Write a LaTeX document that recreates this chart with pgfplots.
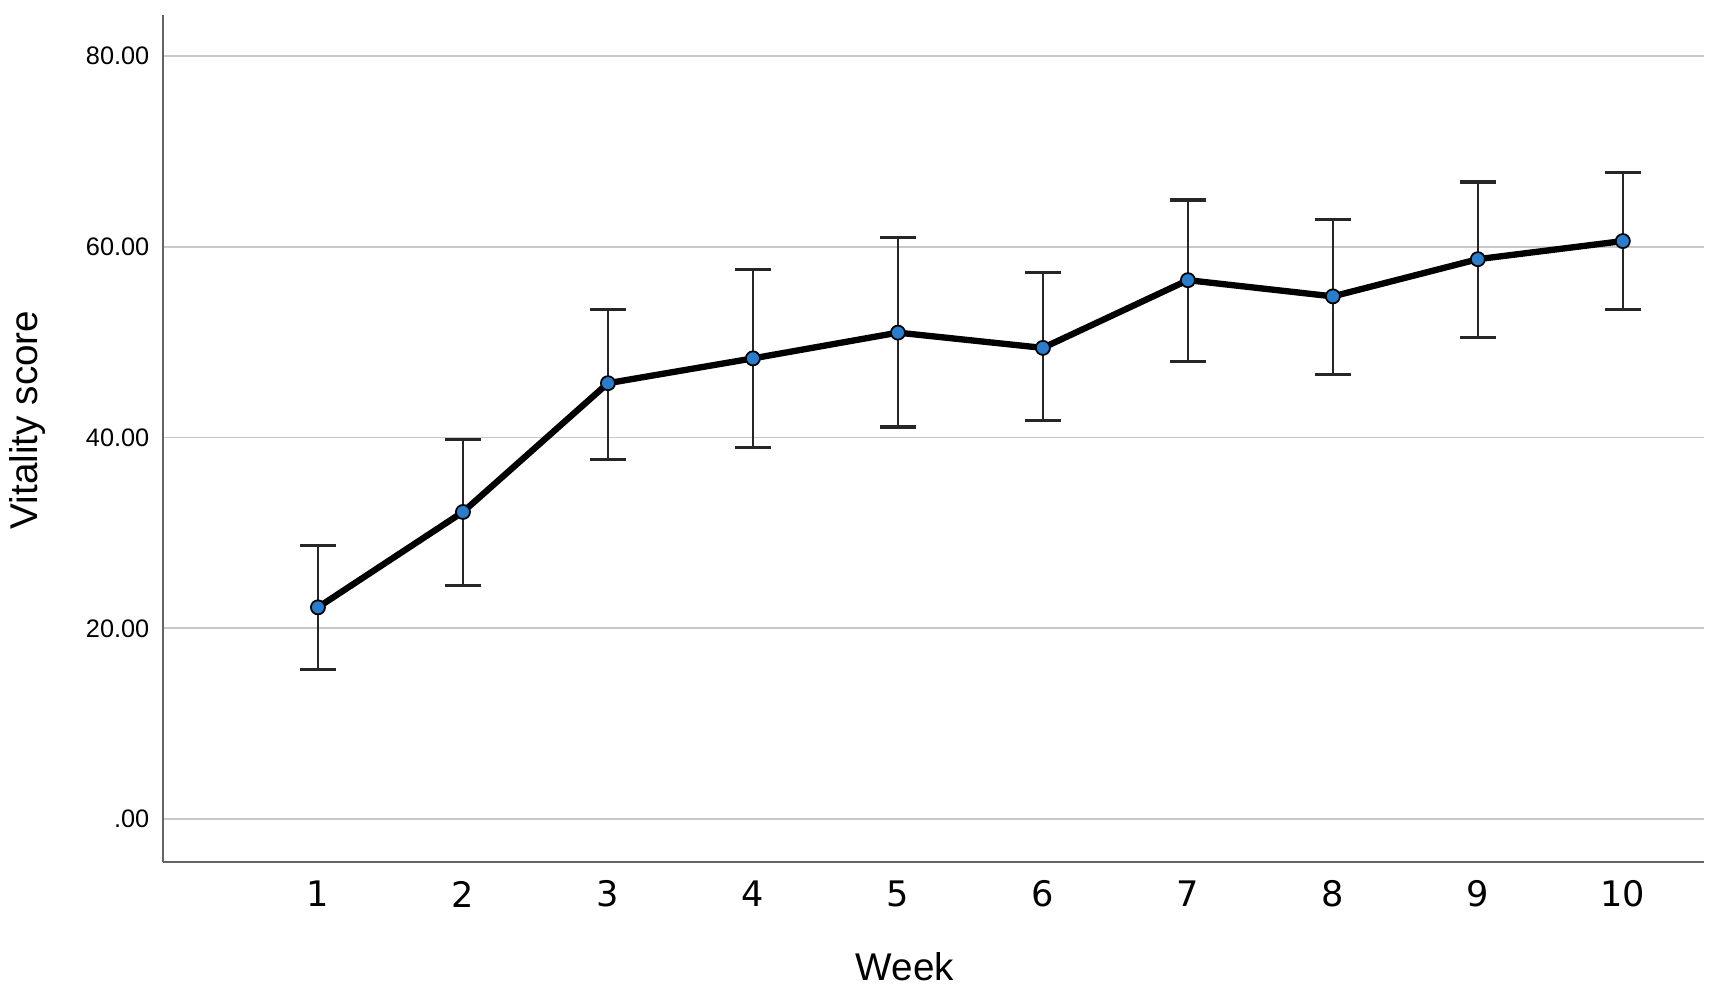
\documentclass[border=0pt]{standalone}
\usepackage{fontspec}
\setmainfont{Liberation Sans}
\newfontfamily\dejavu{DejaVu Sans}
\usepackage{pgfplots}
\usepackage{pgfplotstable}
\pgfplotsset{compat=1.18}
\definecolor{gridc}{RGB}{200,200,200}
\definecolor{axc}{RGB}{100,100,100}
\definecolor{markc}{RGB}{40,125,205}
\pgfplotstableread{
x y ep em
1 22.2 6.5 6.5
2 32.2 7.6 7.7
3 45.7 7.7 8.0
4 48.3 9.3 9.3
5 51.0 10.0 9.9
6 49.4 7.9 7.6
7 56.5 8.4 8.5
8 54.8 8.1 8.2
9 58.7 8.1 8.2
10 60.6 7.2 7.2
}\datatab
\begin{document}
\begin{tikzpicture}
\path[use as bounding box] (0,0) rectangle (17.13cm,9.89cm);
\begin{axis}[
  at={(1.63cm,1.27cm)}, anchor=south west,
  scale only axis,
  width=15.41cm, height=8.47cm,
  xmin=-0.069, xmax=10.56,
  ymin=-4.5, ymax=84.3,
  axis x line=bottom, axis y line=left,
  axis line style={draw=axc, line width=0.6pt, -},
  xtick={1,2,3,4,5,6,7,8,9,10},
  xticklabels={1,2,3,4,5,6,7,8,9,10},
  ytick={0,20,40,60,80},
  yticklabels={.00,20.00,40.00,60.00,80.00},
  major tick length=0pt,
  ymajorgrids,
  grid style={draw=gridc, line width=0.5pt},
  xticklabel style={font=\dejavu\fontsize{10}{12}\selectfont, anchor=center, inner sep=0pt, yshift=-9.1pt},
  yticklabel style={font=\fontsize{7.2}{8}\selectfont, anchor=east, inner sep=0pt, xshift=-3.7pt},
  xlabel={Week}, ylabel={Vitality score},
  every axis x label/.style={at={(axis description cs:0.4815,-0.124)}, anchor=center, font=\fontsize{11}{13}\selectfont},
  every axis y label/.style={at={(axis description cs:-0.088,0.522)}, rotate=90, anchor=center, font=\fontsize{11}{13}\selectfont},
  clip=false,
]
\addplot[black, line width=1.8pt, mark=*, mark size=2.0pt,
  mark options={fill=markc, draw=black, line width=0.5pt},
  error bars/.cd, y dir=both, y explicit,
  error bar style={draw=black!85, line width=0.75pt},
  error mark options={rotate=90, mark size=5.1pt, line width=0.9pt, draw=black!85}]
  table[x=x, y=y, y error plus=ep, y error minus=em] {\datatab};
\end{axis}
\end{tikzpicture}
\end{document}
